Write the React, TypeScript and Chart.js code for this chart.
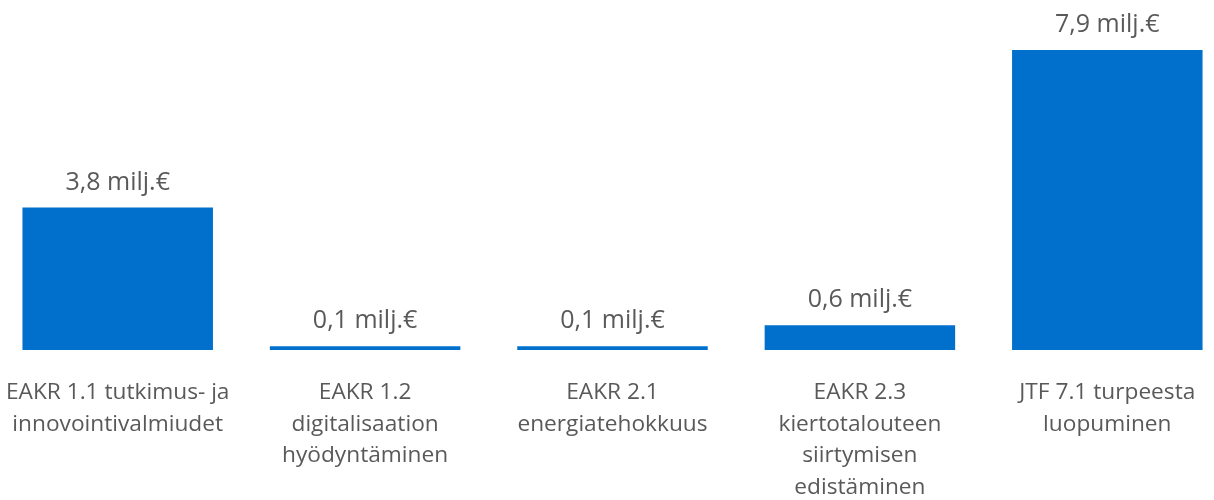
import React, { useEffect, useRef } from "react";
import { Chart, registerables } from "chart.js";

Chart.register(...registerables);

const categories: string[][] = [
  ["EAKR 1.1 tutkimus- ja", "innovointivalmiudet"],
  ["EAKR 1.2", "digitalisaation", "hyödyntäminen"],
  ["EAKR 2.1", "energiatehokkuus"],
  ["EAKR 2.3", "kiertotalouteen", "siirtymisen", "edistäminen"],
  ["JTF 7.1 turpeesta", "luopuminen"],
];
const values: number[] = [3.75, 0.1, 0.1, 0.65, 7.9];
const valueLabels: string[] = ["3,8 milj.€", "0,1 milj.€", "0,1 milj.€", "0,6 milj.€", "7,9 milj.€"];

const BAR_COLOR = "#0070cc";
const TEXT_COLOR = "#595959";
const FONT = "'Open Sans', 'Noto Sans', sans-serif";

const valueLabelPlugin = {
  id: "valueLabels",
  afterDatasetsDraw(chart: any) {
    const ctx = chart.ctx;
    const meta = chart.getDatasetMeta(0);
    ctx.save();
    ctx.font = `25px ${FONT}`;
    ctx.fillStyle = TEXT_COLOR;
    ctx.textAlign = "center";
    ctx.textBaseline = "alphabetic";
    meta.data.forEach((bar: any, i: number) => {
      ctx.fillText(valueLabels[i], bar.x, bar.y - 18);
    });
    ctx.restore();
  },
};

export default function App() {
  const ref = useRef<HTMLCanvasElement | null>(null);
  useEffect(() => {
    if (!ref.current) return;
    const chart = new Chart(ref.current, {
      type: "bar",
      data: {
        labels: categories,
        datasets: [
          {
            data: values,
            backgroundColor: BAR_COLOR,
            borderWidth: 0,
            barPercentage: 0.77,
            categoryPercentage: 1,
          },
        ],
      },
      options: {
        responsive: false,
        animation: false,
        layout: { padding: { top: 50, left: 0, right: 0, bottom: 0 } },
        plugins: { legend: { display: false }, tooltip: { enabled: false } },
        scales: {
          x: {
            grid: { display: false },
            border: { display: false },
            afterFit: (scale: any) => {
              scale.height = 150;
              scale.paddingLeft = 0;
              scale.paddingRight = 0;
            },
            ticks: {
              autoSkip: false,
              maxRotation: 0,
              minRotation: 0,
              padding: 19,
              color: TEXT_COLOR,
              font: { family: FONT, size: 22.7, lineHeight: 31.5 / 22.7 },
            },
          },
          y: {
            display: false,
            min: 0,
            max: 7.9,
          },
        },
      },
      plugins: [valueLabelPlugin],
    });
    return () => chart.destroy();
  }, []);
  return (
    <div style={{ position: "fixed", inset: 0, overflow: "hidden", background: "#fff" }}>
      <canvas
        ref={ref}
        width={1237}
        height={500}
        style={{ position: "absolute", left: -6, top: 0, width: 1237, height: 500 }}
      />
    </div>
  );
}
